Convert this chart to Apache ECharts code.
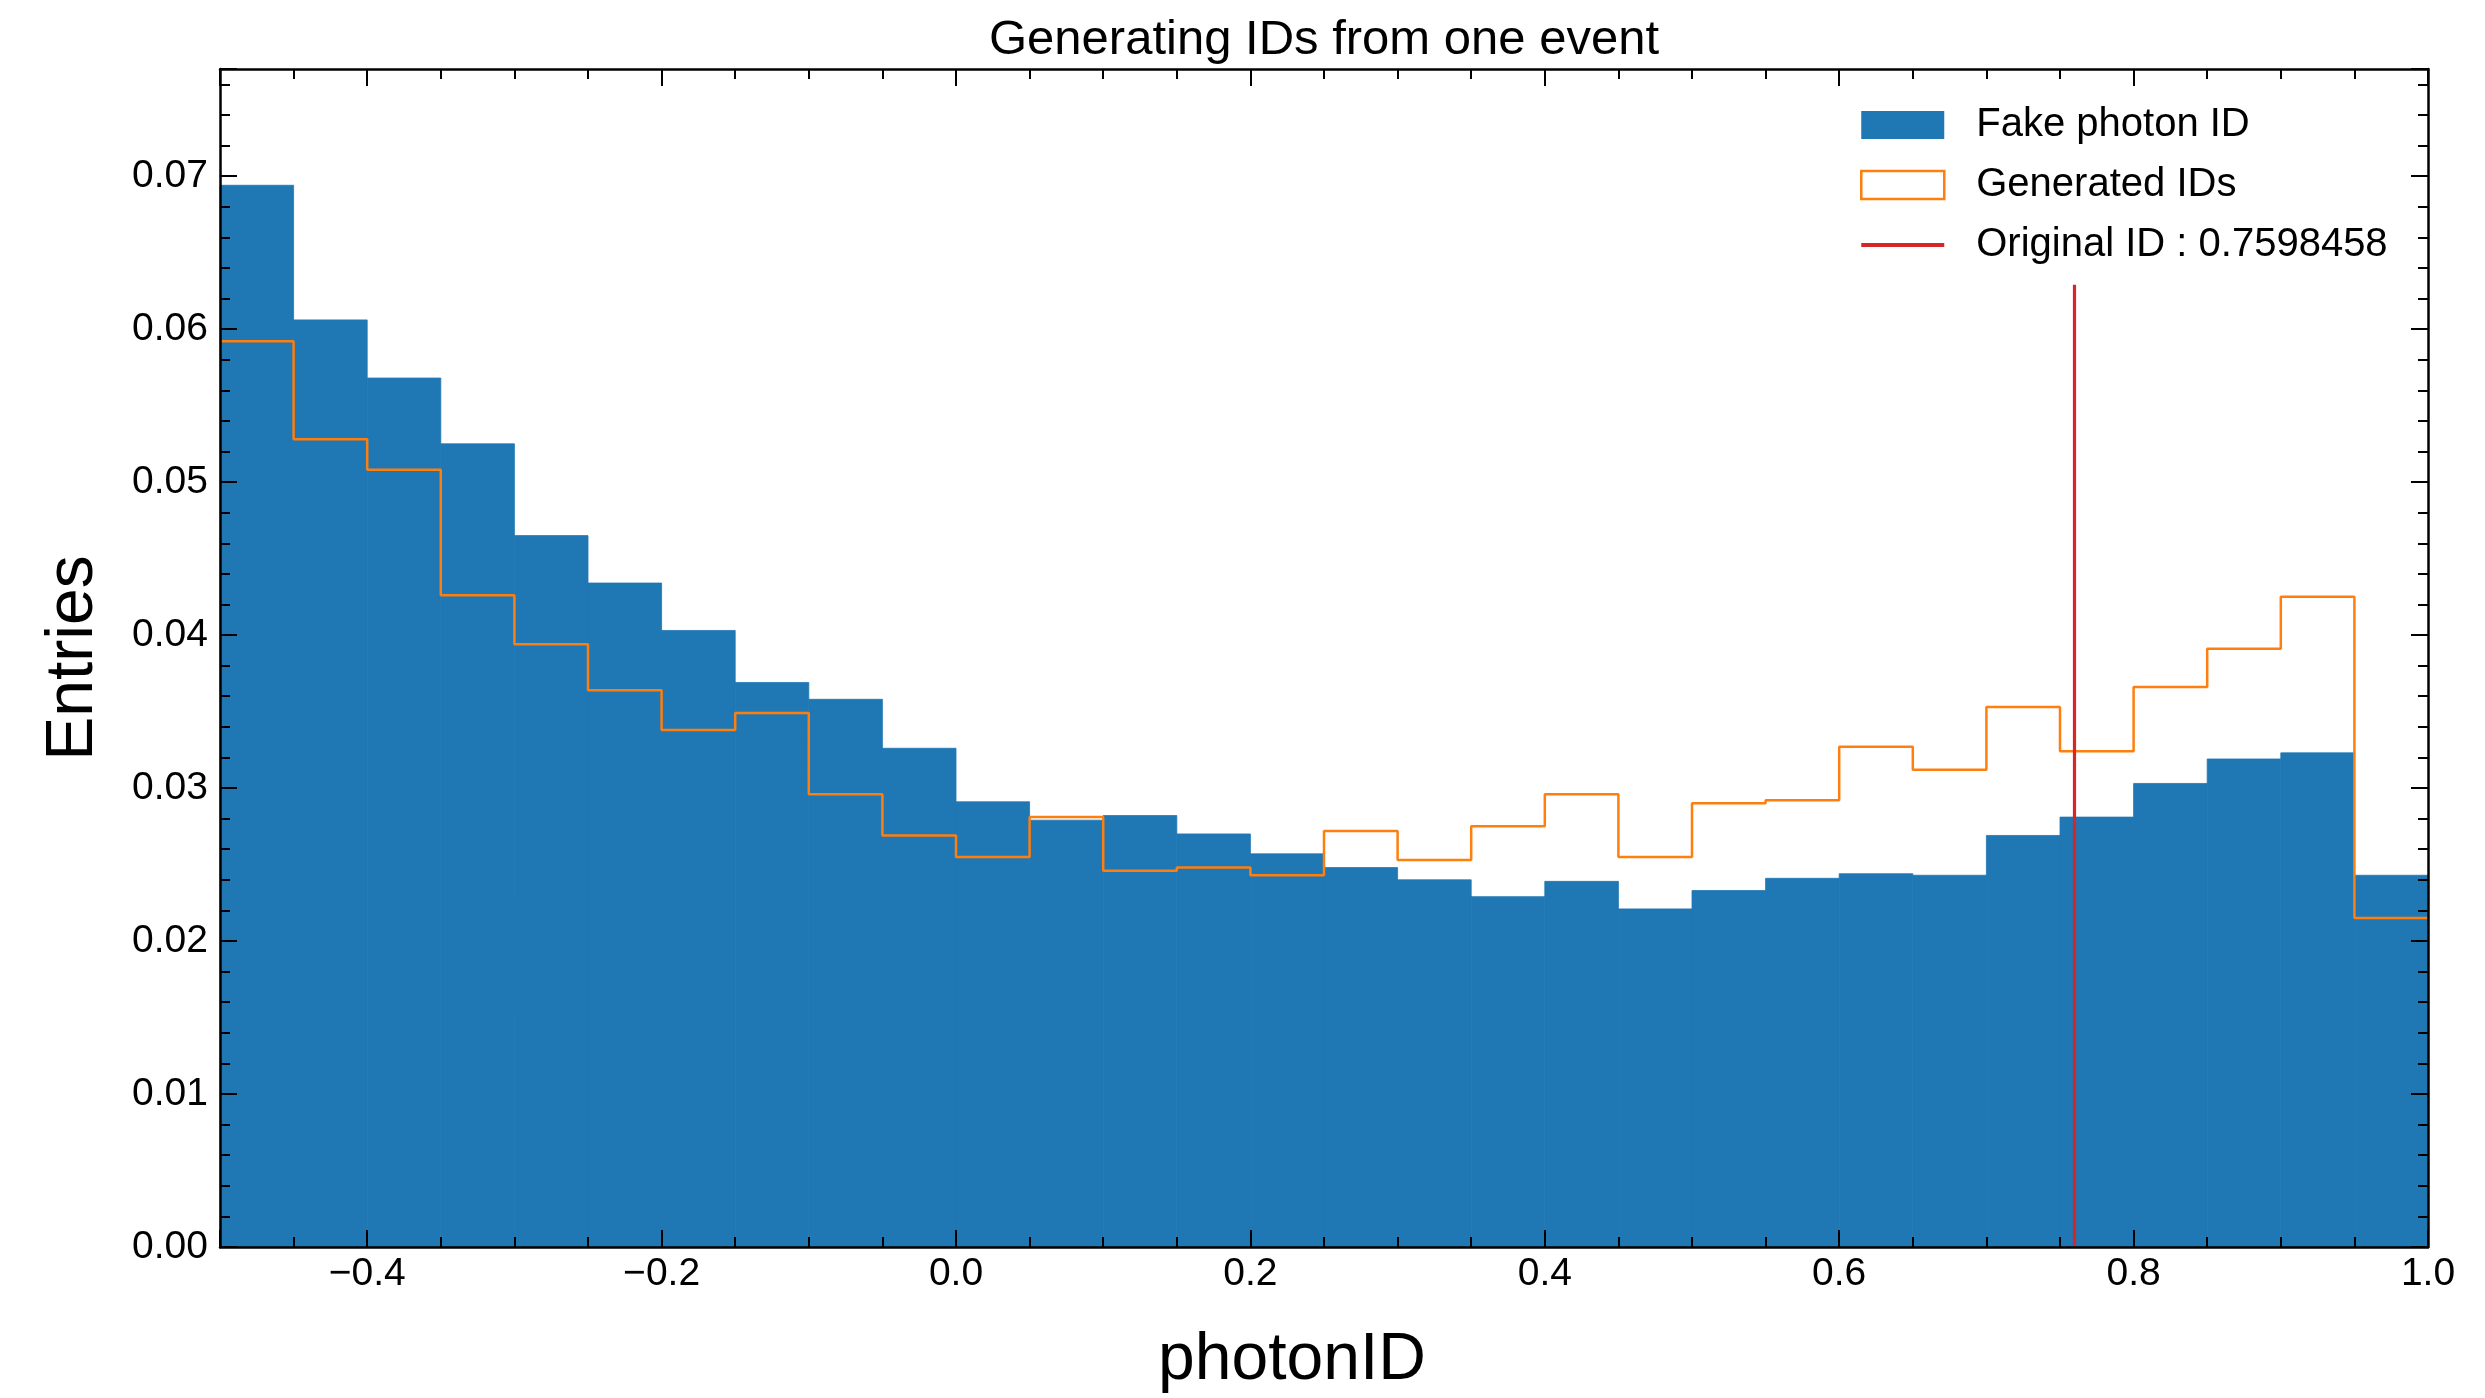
<!DOCTYPE html>
<html>
<head>
<meta charset="utf-8">
<title>Generating IDs from one event</title>
<script src="https://cdn.jsdelivr.net/npm/echarts@6/dist/echarts.min.js"></script>
<style>
  html, body { margin: 0; padding: 0; background: #ffffff; }
  #chart { width: 2485px; height: 1398px; }
</style>
</head>
<body>
<div id="chart"></div>
<script>
// Bin edges of the photonID histogram (30 bins, width 0.05)
const binEdges = [-0.5, -0.45, -0.4, -0.35, -0.3, -0.25, -0.2, -0.15, -0.1, -0.05,
                  0.0, 0.05, 0.1, 0.15, 0.2, 0.25, 0.3, 0.35, 0.4, 0.45,
                  0.5, 0.55, 0.6, 0.65, 0.7, 0.75, 0.8, 0.85, 0.9, 0.95, 1.0];

// Normalised entries per bin
const fakePhotonID = [0.0694, 0.0606, 0.0568, 0.0525, 0.0465, 0.0434, 0.0403, 0.0369, 0.0358, 0.0326,
                      0.0291, 0.0279, 0.0282, 0.0270, 0.0257, 0.0248, 0.0240, 0.0229, 0.0239, 0.0221,
                      0.0233, 0.0241, 0.0244, 0.0243, 0.0269, 0.0281, 0.0303, 0.0319, 0.0323, 0.0243];

const generatedIDs = [0.0592, 0.0528, 0.0508, 0.0426, 0.0394, 0.0364, 0.0338, 0.0349, 0.0296, 0.0269,
                      0.0255, 0.0281, 0.0246, 0.0248, 0.0243, 0.0272, 0.0253, 0.0275, 0.0296, 0.0255,
                      0.0290, 0.0292, 0.0327, 0.0312, 0.0353, 0.0324, 0.0366, 0.0391, 0.0425, 0.0215];

// Photon ID of the original event and the vertical extent of its marker line
const originalID = 0.7598458;
const originalLineSpan = [0, 0.0629];

const seriesNames = ['Fake photon ID', 'Generated IDs', 'Original ID : ' + originalID];

// Derived tables for the library
const fakeBins = fakePhotonID.map((v, i) => [binEdges[i], binEdges[i + 1], v]);
const genSteps = generatedIDs.map((v, i) => [binEdges[i], v])
  .concat([[binEdges[binEdges.length - 1], generatedIDs[generatedIDs.length - 1]]]);
const originalLine = originalLineSpan.map(y => [originalID, y]);

const FONT = '"Liberation Sans", Arial, Helvetica, sans-serif';
const BLUE = '#1f77b4', ORANGE = '#ff7f0e', RED = '#d62728';

function fmtX(v) {
  const s = Math.abs(v).toFixed(1);
  return v < -1e-9 ? '\u2212' + s : s;
}

const spine = { show: true, onZero: false, lineStyle: { color: '#000', width: 2.5 } };
const majorTick = { show: true, inside: true, length: 17, lineStyle: { color: '#000', width: 2 } };

function xAxisDef(pos, labels) {
  return {
    type: 'value', position: pos, min: -0.5, max: 1.0, splitNumber: 8, z: 10,
    axisLine: spine, axisTick: majorTick,
    minorTick: { show: true, splitNumber: 4, length: 10, lineStyle: { color: '#000', width: 2 } },
    splitLine: { show: false }, minorSplitLine: { show: false },
    axisLabel: labels ? {
      show: true, showMinLabel: false, margin: 8, formatter: fmtX,
      color: '#000', fontFamily: FONT, fontSize: 39
    } : { show: false }
  };
}

function yAxisDef(pos, labels) {
  return {
    type: 'value', position: pos, min: 0, max: 0.077, interval: 0.01, z: 10,
    axisLine: spine, axisTick: majorTick,
    minorTick: { show: true, splitNumber: 5, length: 10, lineStyle: { color: '#000', width: 2 } },
    splitLine: { show: false }, minorSplitLine: { show: false },
    axisLabel: labels ? {
      show: true, showMaxLabel: false, margin: 12, formatter: v => v.toFixed(2),
      color: '#000', fontFamily: FONT, fontSize: 39
    } : { show: false }
  };
}

const xMain = xAxisDef('bottom', true);
xMain.name = 'photonID';
xMain.nameLocation = 'middle';
xMain.nameGap = 81;
xMain.nameTextStyle = { color: '#000', fontFamily: FONT, fontSize: 66, padding: [0, 64, 0, 0] };

const yMain = yAxisDef('left', true);
yMain.name = 'Entries';
yMain.nameLocation = 'middle';
yMain.nameGap = 113;
yMain.nameTextStyle = { color: '#000', fontFamily: FONT, fontSize: 66 };

const chart = echarts.init(document.getElementById('chart'), null, { renderer: 'canvas' });

chart.setOption({
  backgroundColor: '#ffffff',
  animation: false,
  title: {
    text: 'Generating IDs from one event',
    left: 1324, top: 16, padding: 0, textAlign: 'center',
    textStyle: { color: '#000', fontFamily: FONT, fontSize: 49, fontWeight: 'normal' }
  },
  grid: { left: 220, top: 69, width: 2208, height: 1178, outerBoundsMode: 'none', containLabel: false },
  legend: {
    orient: 'vertical', left: 1860, top: 105, padding: 0,
    itemWidth: 83, itemHeight: 28, itemGap: 20, selectedMode: false,
    textStyle: { color: '#000', fontFamily: FONT, fontSize: 40, lineHeight: 40, padding: [0, 0, 0, 27] },
    data: [
      { name: seriesNames[0], icon: 'rect', itemStyle: { color: BLUE, borderWidth: 0 } },
      { name: seriesNames[1], icon: 'rect', itemStyle: { color: '#ffffff', borderColor: ORANGE, borderWidth: 2.5 } },
      { name: seriesNames[2], icon: 'path://M0,0H83V4H0Z', itemStyle: { color: RED, borderWidth: 0 } }
    ]
  },
  xAxis: [xMain, xAxisDef('top', false)],
  yAxis: [yMain, yAxisDef('right', false)],
  series: [
    {
      name: seriesNames[0],
      type: 'custom',
      xAxisIndex: 0, yAxisIndex: 0,
      itemStyle: { color: BLUE },
      encode: { x: [0, 1], y: 2 },
      data: fakeBins,
      renderItem: function (params, api) {
        const p0 = api.coord([api.value(0), api.value(2)]);
        const p1 = api.coord([api.value(1), 0]);
        return {
          type: 'rect',
          shape: { x: p0[0], y: p0[1], width: p1[0] - p0[0], height: p1[1] - p0[1] },
          style: { fill: BLUE, stroke: BLUE, lineWidth: 0.8 }
        };
      }
    },
    {
      name: seriesNames[1],
      type: 'line',
      xAxisIndex: 0, yAxisIndex: 0,
      step: 'end',
      symbol: 'none',
      color: ORANGE,
      lineStyle: { color: ORANGE, width: 2.5 },
      data: genSteps
    },
    {
      name: seriesNames[2],
      type: 'line',
      xAxisIndex: 0, yAxisIndex: 0,
      symbol: 'none',
      color: RED,
      lineStyle: { color: RED, width: 3.2 },
      data: originalLine
    }
  ]
});
</script>
</body>
</html>
